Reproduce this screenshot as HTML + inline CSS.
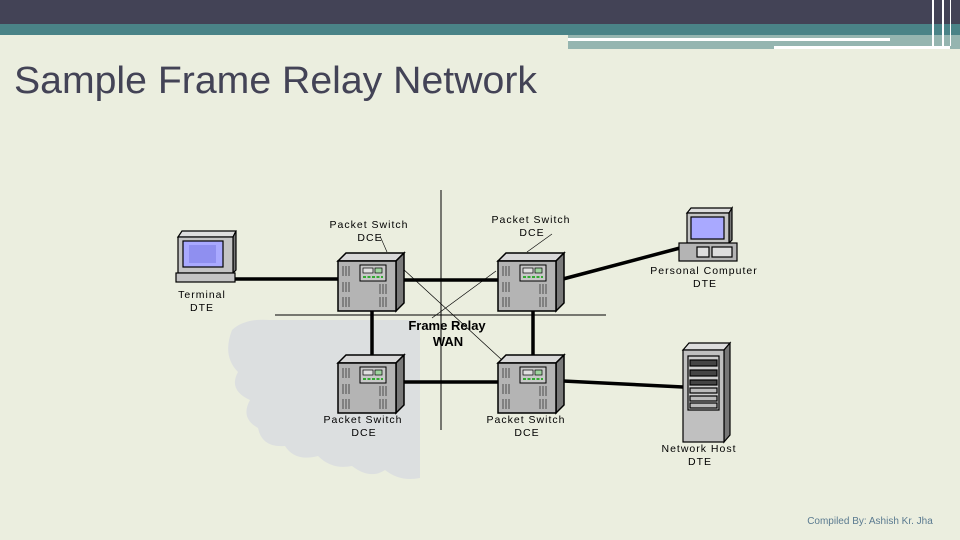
<!DOCTYPE html>
<html><head><meta charset="utf-8"><style>
html,body{margin:0;padding:0;width:960px;height:540px;overflow:hidden;background:#ebeedf;}
svg{display:block}
</style></head><body>
<svg width="960" height="540" viewBox="0 0 960 540" xmlns="http://www.w3.org/2000/svg" font-family="Liberation Sans, sans-serif">
<defs>
<g id="sw">
  <polygon points="0,8 8,0 66,0 58,8" fill="#d8d8d8" stroke="#000" stroke-width="1.5"/>
  <polygon points="58,8 66,0 66,50 58,58" fill="#7a7a7a" stroke="#000" stroke-width="1.5"/>
  <rect x="0" y="8" width="58" height="50" fill="#b4b4b4" stroke="#000" stroke-width="1.5"/>
  <rect x="22" y="12" width="26" height="16" fill="#c8c8c8" stroke="#000"/>
  <rect x="25" y="15" width="10" height="5" fill="#e0e0e0" stroke="#000" stroke-width="0.7"/>
  <rect x="37" y="15" width="7" height="5" fill="#9fd49f" stroke="#000" stroke-width="0.7"/>
  <line x1="25" y1="24" x2="45" y2="24" stroke="#3a3" stroke-width="2" stroke-dasharray="3,1.5"/>
  <g stroke="#333" stroke-width="0.8">
    <path d="M5,13v10M8,13v10M11,13v10M5,29v10M8,29v10M11,29v10M5,44v10M8,44v10M11,44v10"/>
    <path d="M42,31v10M45,31v10M48,31v10M42,44v10M45,44v10M48,44v10"/>
  </g>
</g>
</defs>
<!-- header -->
<rect x="0" y="0" width="960" height="24" fill="#434356"/>
<rect x="0" y="24" width="960" height="11" fill="#4a8387"/>
<rect x="568" y="35" width="392" height="14" fill="#95b5b0"/>
<rect x="568" y="38" width="322" height="3" fill="#fff"/>
<rect x="774" y="46" width="176" height="3" fill="#fff"/>
<rect x="932" y="0" width="2" height="46" fill="#fff"/>
<rect x="942" y="0" width="2" height="46" fill="#fff"/>
<rect x="950" y="0" width="1" height="46" fill="#fff"/>
<text x="14" y="93" font-size="38" fill="#434356" textLength="523" lengthAdjust="spacingAndGlyphs">Sample Frame Relay Network</text>
<!-- cloud -->
<path d="M232,330 Q245,318 270,320 L420,320 L420,478 Q400,482 385,470 Q370,480 352,466 Q332,470 318,456 Q295,462 285,446 Q262,448 258,428 Q240,418 250,400 Q228,390 238,372 Q222,356 232,330 Z" fill="#dcdfe0"/>
<!-- crosshair -->
<line x1="441" y1="190" x2="441" y2="430" stroke="#000" stroke-width="1"/>
<line x1="275" y1="315" x2="606" y2="315" stroke="#000" stroke-width="1"/>
<!-- diagonals -->
<line x1="402" y1="268" x2="502" y2="360" stroke="#000" stroke-width="0.7"/>
<line x1="496" y1="271" x2="432" y2="318" stroke="#000" stroke-width="0.7"/>
<line x1="380" y1="236" x2="387" y2="252" stroke="#000" stroke-width="0.6"/>
<line x1="552" y1="234" x2="527" y2="252" stroke="#000" stroke-width="0.6"/>
<!-- thick links -->
<g stroke="#000" stroke-width="3.5">
<line x1="234" y1="279" x2="338" y2="279"/>
<line x1="402" y1="280" x2="498" y2="280"/>
<line x1="563" y1="279" x2="680" y2="248"/>
<line x1="372" y1="310" x2="372" y2="356"/>
<line x1="533" y1="310" x2="533" y2="356"/>
<line x1="402" y1="382" x2="498" y2="382"/>
<line x1="563" y1="381" x2="683" y2="387"/>
</g>
<use href="#sw" x="338" y="253"/>
<use href="#sw" x="498" y="253"/>
<use href="#sw" x="338" y="355"/>
<use href="#sw" x="498" y="355"/>
<!-- terminal -->
<g stroke="#000" stroke-width="1.2">
<polygon points="178,237 182,231 236,231 233,237" fill="#ddd"/>
<polygon points="233,237 236,231 236,270 233,273" fill="#777"/>
<rect x="178" y="237" width="55" height="36" fill="#c4c4c4"/>
<rect x="183" y="241" width="40" height="26" fill="#a9a9ff"/>
<rect x="189" y="245" width="27" height="18" fill="#8f8ff0" stroke="none"/>
<rect x="176" y="273" width="59" height="9" fill="#c4c4c4"/>
</g>
<!-- PC -->
<g stroke="#000" stroke-width="1.2">
<polygon points="687,213 691,208 732,208 729,213" fill="#ddd"/>
<polygon points="729,213 732,208 732,240 729,243" fill="#777"/>
<rect x="687" y="213" width="42" height="30" fill="#c4c4c4"/>
<rect x="691" y="217" width="33" height="22" fill="#a9a9ff"/>
<rect x="679" y="243" width="58" height="18" fill="#b4b4b4"/>
<rect x="697" y="247" width="12" height="10" fill="#ddd"/>
<rect x="712" y="247" width="20" height="10" fill="#ddd"/>
</g>
<!-- host -->
<g stroke="#000" stroke-width="1.2">
<polygon points="683,350 689,343 730,343 724,350" fill="#ddd"/>
<polygon points="724,350 730,343 730,435 724,442" fill="#777"/>
<rect x="683" y="350" width="41" height="92" fill="#c0c0c0"/>
<rect x="688" y="356" width="31" height="54" fill="#ccc"/>
<rect x="690" y="360" width="27" height="6" fill="#444"/>
<rect x="690" y="370" width="27" height="6" fill="#444"/>
<rect x="690" y="380" width="27" height="5" fill="#444"/>
<rect x="690" y="388" width="27" height="5" fill="#bbb"/>
<rect x="690" y="396" width="27" height="5" fill="#bbb"/>
<rect x="690" y="403" width="27" height="5" fill="#bbb"/>
</g>
<!-- labels -->
<g font-size="10.5" fill="#000" text-anchor="middle" letter-spacing="1">
<text x="369" y="228">Packet Switch</text><text x="370" y="241">DCE</text>
<text x="531" y="223">Packet Switch</text><text x="532" y="236">DCE</text>
<text x="363" y="423">Packet Switch</text><text x="364" y="436">DCE</text>
<text x="526" y="423">Packet Switch</text><text x="527" y="436">DCE</text>
<text x="202" y="298">Terminal</text><text x="202" y="311">DTE</text>
<text x="704" y="274">Personal Computer</text><text x="705" y="287">DTE</text>
<text x="699" y="452">Network Host</text><text x="700" y="465">DTE</text>
</g>
<g font-size="13" font-weight="bold" fill="#000" text-anchor="middle">
<text x="447" y="330">Frame Relay</text><text x="448" y="346">WAN</text>
</g>
<text x="870" y="524" font-size="10" fill="#5a7a90" text-anchor="middle">Compiled By: Ashish Kr. Jha</text>
</svg>
</body></html>
